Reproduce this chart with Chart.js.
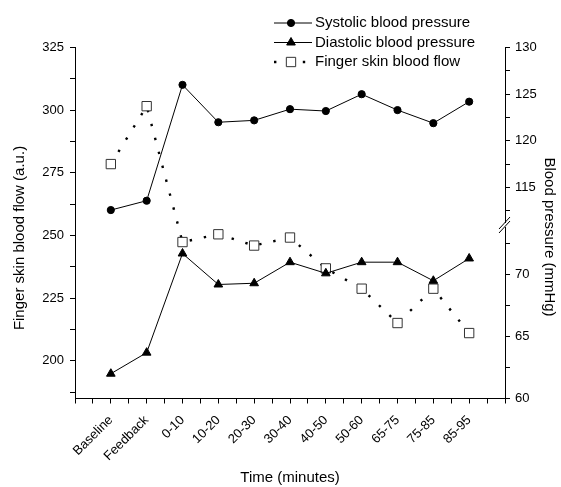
<!DOCTYPE html>
<html>
<head>
<meta charset="utf-8">
<title>Blood pressure and finger skin blood flow</title>
<script src="https://cdn.jsdelivr.net/npm/chart.js@4.4.1/dist/chart.umd.min.js"></script>
<style>
  html, body { margin: 0; padding: 0; background: #fff; }
</style>
</head>
<body>
<canvas id="bpChart" width="561" height="487"></canvas>
<script>
// Data
const periods = ["Baseline", "Feedback", "0-10", "10-20", "20-30", "30-40", "40-50", "50-60", "65-75", "75-85", "85-95"];
const systolic = [112.6, 113.6, 126.0, 122.0, 122.2, 123.4, 123.2, 125.0, 123.3, 121.9, 124.2];
const diastolic = [62.0, 63.7, 71.7, 69.2, 69.3, 71.0, 70.1, 71.0, 71.0, 69.5, 71.3];
const skinFlow = [278.5, 301.6, 247.4, 250.5, 246.0, 249.2, 236.9, 228.8, 215.1, 228.8, 211.1];

// Tick labels shown on each axis
const flowTicks = [200, 225, 250, 275, 300, 325];
const upperBpTicks = [115, 120, 125, 130];
const lowerBpTicks = [60, 65, 70];

const FONT = "'Liberation Sans', Arial, Helvetica, sans-serif";
Chart.defaults.font.family = FONT;
Chart.defaults.color = "#000";

const toPoints = (arr) => arr.map((v, i) => ({ x: i, y: v }));

const axisGrid = { drawOnChartArea: false, drawTicks: true, tickLength: 5, color: "#000", lineWidth: 1 };
const axisBorder = { display: true, color: "#000", width: 1 };

// legend, vertical titles and the axis break are drawn here
const extras = {
  id: "extras",
  afterDraw(chart) {
    const ctx = chart.ctx;
    const area = chart.chartArea;

    // break marks on the right axis
    const yb = chart.scales.yLow.top;
    const xr = area.right;
    ctx.save();
    ctx.fillStyle = "#fff";
    ctx.fillRect(xr - 2, yb - 2, 4, 4);
    ctx.strokeStyle = "#000";
    ctx.lineWidth = 1;
    [-2, 2].forEach(off => {
      ctx.beginPath();
      ctx.moveTo(xr - 6, yb + off + 6);
      ctx.lineTo(xr + 5, yb + off - 6);
      ctx.stroke();
    });
    ctx.restore();

    // axis titles
    ctx.save();
    ctx.font = "15px " + FONT;
    ctx.fillStyle = "#000";
    ctx.textAlign = "center";
    ctx.textBaseline = "middle";
    ctx.translate(20, 238);
    ctx.rotate(-Math.PI / 2);
    ctx.fillText("Finger skin blood flow (a.u.)", 0, 0);
    ctx.restore();

    ctx.save();
    ctx.font = "15px " + FONT;
    ctx.fillStyle = "#000";
    ctx.textAlign = "center";
    ctx.textBaseline = "middle";
    ctx.translate(549, 237);
    ctx.rotate(Math.PI / 2);
    ctx.fillText("Blood pressure (mmHg)", 0, 0);
    ctx.restore();

    // legend
    const rows = [23, 42.5, 62];
    chart.data.datasets.forEach((ds, i) => {
      const y = rows[i];
      ctx.save();
      ctx.strokeStyle = ds.borderColor;
      ctx.lineWidth = ds.borderWidth;
      ctx.setLineDash(ds.borderDash || []);
      ctx.beginPath();
      ctx.moveTo(274, y);
      ctx.lineTo(312, y);
      ctx.stroke();
      ctx.setLineDash([]);
      ctx.fillStyle = ds.pointBackgroundColor;
      ctx.strokeStyle = ds.pointBorderColor;
      ctx.lineWidth = ds.pointBorderWidth;
      Chart.helpers.drawPoint(ctx, {
        pointStyle: ds.pointStyle,
        radius: ds.pointRadius,
        rotation: 0,
        borderWidth: ds.pointBorderWidth
      }, 291, y);
      ctx.fillStyle = "#000";
      ctx.font = "15px " + FONT;
      ctx.textAlign = "left";
      ctx.textBaseline = "middle";
      ctx.fillText(ds.label, 315, y);
      ctx.restore();
    });
  }
};

const config = {
  type: "line",
  data: {
    datasets: [
      {
        label: "Systolic blood pressure",
        data: toPoints(systolic),
        yAxisID: "yUp",
        borderColor: "#000",
        borderWidth: 1,
        pointStyle: "circle",
        pointRadius: 3.6,
        pointBackgroundColor: "#000",
        pointBorderColor: "#000",
        pointBorderWidth: 1
      },
      {
        label: "Diastolic blood pressure",
        data: toPoints(diastolic),
        yAxisID: "yLow",
        borderColor: "#000",
        borderWidth: 1,
        pointStyle: "triangle",
        pointRadius: 5,
        pointBackgroundColor: "#000",
        pointBorderColor: "#000",
        pointBorderWidth: 1
      },
      {
        label: "Finger skin blood flow",
        data: toPoints(skinFlow),
        yAxisID: "y",
        borderColor: "#000",
        borderWidth: 2.4,
        borderDash: [2.4, 12],
        pointStyle: "rect",
        pointRadius: 6.6,
        pointBackgroundColor: "#fff",
        pointBorderColor: "#333",
        pointBorderWidth: 1
      }
    ]
  },
  options: {
    responsive: false,
    animation: false,
    layout: { padding: { top: 47.5, left: 0, right: 0, bottom: 0 } },
    plugins: { legend: { display: false }, tooltip: { enabled: false } },
    elements: { line: { tension: 0 } },
    scales: {
      x: {
        type: "linear",
        min: -1,
        max: periods.length,
        border: axisBorder,
        grid: axisGrid,
        ticks: {
          stepSize: 0.5,
          autoSkip: false,
          minRotation: 45,
          maxRotation: 45,
          padding: 9,
          font: { size: 13 },
          callback: (v) => (Number.isInteger(v) && v >= 0 && v < periods.length ? periods[v] : "")
        },
        title: { display: true, text: "Time (minutes)", font: { size: 15 }, padding: { top: 0, bottom: 0 } },
        afterFit: (s) => { s.height = 88.5; }
      },
      y: {
        type: "linear",
        position: "left",
        min: 185,
        max: 325,
        border: axisBorder,
        grid: axisGrid,
        ticks: {
          stepSize: 12.5,
          includeBounds: false,
          autoSkip: false,
          padding: 6,
          font: { size: 13 },
          callback: (v) => (flowTicks.includes(v) ? v : "")
        },
        afterFit: (s) => { s.width = 75; }
      },
      yUp: {
        type: "linear",
        position: "right",
        stack: "bp",
        stackWeight: 177.5,
        min: 111,
        max: 130,
        border: axisBorder,
        grid: axisGrid,
        ticks: {
          stepSize: 2.5,
          includeBounds: false,
          autoSkip: false,
          padding: 5,
          font: { size: 13 },
          callback: (v) => (upperBpTicks.includes(v) ? v : "")
        },
        afterFit: (s) => { s.width = 56; }
      },
      yLow: {
        type: "linear",
        position: "right",
        stack: "bp",
        stackWeight: 173.5,
        min: 60,
        max: 74,
        border: axisBorder,
        grid: axisGrid,
        ticks: {
          stepSize: 2.5,
          includeBounds: false,
          autoSkip: false,
          padding: 5,
          font: { size: 13 },
          callback: (v) => (lowerBpTicks.includes(v) ? v : "")
        },
        afterFit: (s) => { s.width = 56; }
      }
    }
  },
  plugins: [extras]
};

const bpChart = new Chart(document.getElementById("bpChart"), config);
</script>
</body>
</html>
